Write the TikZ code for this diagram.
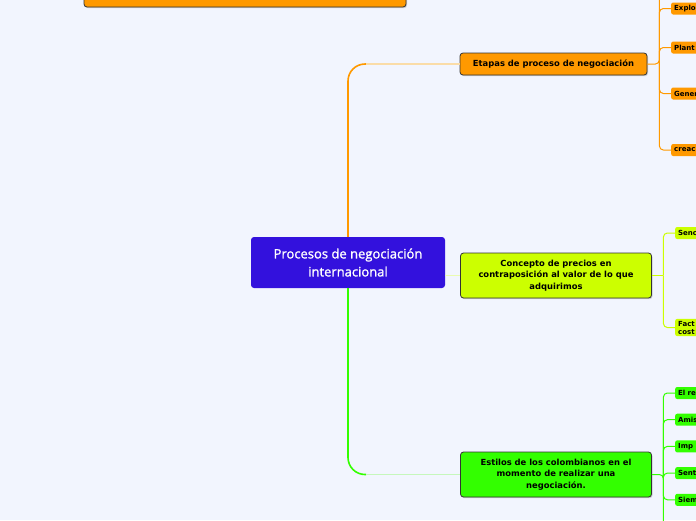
\documentclass[tikz,border=0pt]{standalone}
\usepackage{fontspec}
\setmainfont{DejaVu Sans}
\newfontfamily\rootfont[FakeBold=1.3]{Open Sans}
\usetikzlibrary{positioning, calc, shadows}

\definecolor{bgblue}{HTML}{F2F5FE}
\definecolor{rootblue}{HTML}{3311DD}
\definecolor{orng}{HTML}{FF9900}
\definecolor{lime}{HTML}{CCFF00}
\definecolor{grn}{HTML}{33FF00}
\definecolor{paleorng}{HTML}{FADCA8}
\definecolor{palelime}{HTML}{EAFBB0}
\definecolor{palegrn}{HTML}{C6F7BC}

\begin{document}
\begin{tikzpicture}[x=1pt, y=-1pt,
    % Node styles
    root/.style={
        rectangle, rounded corners=3pt,
        minimum width=194pt, minimum height=51pt,
        inner sep=0pt, align=center,
        font=\rootfont\fontsize{13}{18}\selectfont, text=white,
        fill=rootblue,
    },
    topic/.style={
        rectangle, rounded corners=3pt,
        inner sep=0pt, align=center,
        font=\bfseries\fontsize{8.4}{11.5}\selectfont,
        draw=black!80, line width=0.8pt,
        fill=#1,
        drop shadow={shadow xshift=1pt, shadow yshift=-1.2pt, opacity=0.35},
    },
    topic/.default=orng,
    leaf/.style={
        rectangle, rounded corners=2pt, anchor=west,
        minimum height=12pt, text width=34pt, align=left,
        inner xsep=3pt, inner ysep=0pt,
        font=\bfseries\fontsize{7}{8}\selectfont,
        fill=#1,
    },
    trunk/.style={
        draw=#1, line width=1.6pt, rounded corners=17pt,
    },
    link/.style={
        draw=#1, line width=1.6pt,
    },
    twig/.style={
        draw=#1, line width=1pt, rounded corners=4pt,
    },
]

\useasboundingbox (0,0) rectangle (696,520);
\fill[bgblue] (0,0) rectangle (696,520);
\clip (0,0) rectangle (696,520);

% === Root ===
\node[root] (root) at (348,262.5) {Procesos de negociación\\internacional};

% === Topic cut off at the top ===
\node[topic, minimum width=322pt, minimum height=30pt] (headline) at (245,-8) {};

% === Main topics ===
\node[topic=orng, minimum width=187pt, minimum height=22pt] (etapas) at (553.5,64)
    {Etapas de proceso de negociación};
\node[topic=lime, minimum width=191pt, minimum height=45pt] (concepto) at (556,275.5)
    {Concepto de precios en\\contraposición al valor de lo que\\adquirimos};
\node[topic=grn, minimum width=191pt, minimum height=45pt] (estilos) at (556,474.5)
    {Estilos de los colombianos en el\\momento de realizar una\\negociación.};

% === Leaves: etapas ===
\node[leaf=orng] (explo) at (671,8.5) {Explo};
\node[leaf=orng] (plant) at (671,47.5) {Plant};
\node[leaf=orng] (gener) at (671,93.5) {Gener};
\node[leaf=orng] (creac) at (671,150) {creac};

% === Leaves: concepto ===
\node[leaf=lime] (senc) at (675,233) {Senc};
\node[leaf=lime, inner ysep=2pt] (fact) at (675,327.5) {Fact\\cost};

% === Leaves: estilos ===
\node[leaf=grn] (elre) at (675,393) {El re};
\node[leaf=grn] (amis) [below=14.3pt of elre] {Amis};
\node[leaf=grn] (imp)  [below=14.3pt of amis] {Imp};
\node[leaf=grn] (sent) [below=14.3pt of imp]  {Sent};
\node[leaf=grn] (siem) [below=14.3pt of sent] {Siem};

% === Hubs and off-page ends ===
\coordinate (etapas-hub) at ($(etapas.east)+(12,0)$);
\coordinate (etapas-up) at ($(etapas-hub |- 0,0)+(0,-8)$);
\coordinate (concepto-hub) at ($(concepto.east)+(11.5,0)$);
\coordinate (estilos-hub) at ($(estilos.east)+(11.5,0)$);
\coordinate (estilos-down) at ($(estilos-hub |- 0,520)+(0,8)$);
\coordinate (etapas-bend) at ($(root.north |- etapas.west)+(18,0)$);
\coordinate (estilos-bend) at ($(root.south |- estilos.west)+(18,0)$);

% === Edges: root to main topics ===
\draw[trunk=orng] (root.north) |- (etapas-bend);
\draw[link=paleorng] (etapas-bend) -- (etapas.west);
\draw[link=palelime] (concepto.west -| root.east) -- (concepto.west);
\draw[trunk=grn] (root.south) |- (estilos-bend);
\draw[link=palegrn] (estilos-bend) -- (estilos.west);

% === Edges: main topics to leaves ===
\draw[twig=orng] (etapas.east) -- (etapas-hub) -- (etapas-up);
\foreach \n in {explo, plant, gener, creac}
    \draw[twig=orng] (etapas-hub) |- (\n.west);
\draw[twig=lime] (concepto.east) -- (concepto-hub);
\foreach \n in {senc, fact}
    \draw[twig=lime] (concepto-hub) |- (\n.west);
\draw[twig=grn] (estilos.east) -- (estilos-hub) -- (estilos-down);
\foreach \n in {elre, amis, imp, sent, siem}
    \draw[twig=grn] (estilos-hub) |- (\n.west);

\end{tikzpicture}
\end{document}
